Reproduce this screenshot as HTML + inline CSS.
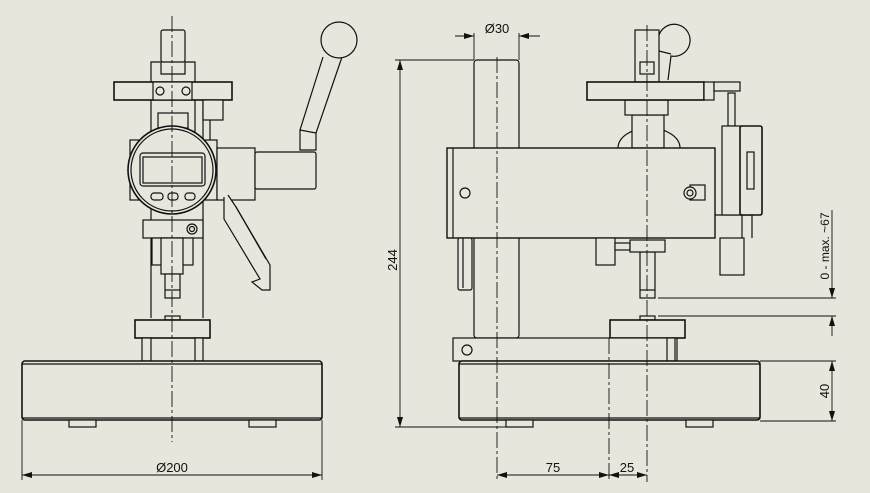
<!DOCTYPE html>
<html><head><meta charset="utf-8"><style>
html,body{margin:0;padding:0;background:#e7e6dd;}
svg{display:block}
text{font-family:"Liberation Sans",sans-serif;font-size:13px;fill:#111}
</style></head><body>
<svg width="870" height="493" viewBox="0 0 870 493" xmlns="http://www.w3.org/2000/svg">
<defs>
<marker id="a" viewBox="0 0 10 6" refX="10" refY="3" markerWidth="10" markerHeight="6" orient="auto-start-reverse" markerUnits="userSpaceOnUse"><path d="M0,0L10,3L0,6z" fill="#111"/></marker>
</defs>
<rect width="870" height="493" fill="#e7e6dd"/>
<g fill="#e7e6dd" stroke="#111" stroke-width="1.2">
<!-- LEFT VIEW -->
<line x1="151" y1="100" x2="151" y2="318"/><line x1="203" y1="100" x2="203" y2="318"/>
<rect x="161" y="30" width="24" height="32" rx="2"/>
<path d="M151 82v-20h10v12h24v-12h10v20"/>
<rect x="114" y="82" width="118" height="18" stroke-width="1.6"/>
<rect x="153" y="82" width="39" height="18"/>
<circle cx="160" cy="91" r="4"/><circle cx="186" cy="91" r="4"/>
<line x1="195" y1="100" x2="195" y2="140"/>
<rect x="158" y="113" width="30" height="15"/>
<rect x="203" y="100" width="20" height="20"/>
<line x1="210" y1="120" x2="210" y2="140"/>
<rect x="130" y="140" width="87" height="60"/>
<circle cx="172" cy="170" r="44" stroke-width="1.6"/><circle cx="172" cy="170" r="41"/>
<rect x="140" y="153" width="65" height="33" rx="3"/><rect x="143" y="157" width="59" height="26"/>
<rect x="151" y="193" width="12" height="7" rx="3"/><rect x="168" y="193" width="10" height="7" rx="3"/><rect x="185" y="193" width="10" height="7" rx="3"/>
<rect x="143" y="220" width="60" height="18"/><circle cx="192" cy="229" r="5"/><circle cx="192" cy="229" r="2.5"/>
<rect x="152" y="238" width="41" height="27"/>
<rect x="161" y="238" width="22" height="36"/>
<rect x="165" y="274" width="15" height="24"/><line x1="165" y1="290" x2="180" y2="290"/>
<rect x="165" y="316" width="15" height="4"/>
<rect x="135" y="320" width="75" height="18" stroke-width="1.6"/>
<rect x="142" y="338" width="9" height="23"/><rect x="195" y="338" width="8" height="23"/>
<rect x="22" y="361" width="300" height="59" rx="3" stroke-width="1.6"/>
<line x1="22" y1="364" x2="322" y2="364"/><line x1="22" y1="418" x2="322" y2="418"/>
<rect x="69" y="420" width="27" height="7"/><rect x="249" y="420" width="27" height="7"/>
<!-- handle -->
<rect x="217" y="148" width="38" height="52"/>
<rect x="255" y="152" width="61" height="37" rx="2"/>
<path d="M300 130L323 57M316 133L342 57" fill="none"/>
<path d="M300 130l0 20h16v-17z"/>
<circle cx="339" cy="40" r="18"/>
<path d="M228 195l8 12 34 58 0 25-8 0-10-8 8-3-36-60 0-22"/>
<path d="M236 207l30 52" fill="none"/>
</g>
<g fill="none" stroke="#111" stroke-width="1.2">
<line x1="172" y1="16" x2="172" y2="442" stroke-width="0.9" stroke-dasharray="16,3,3,3"/>
<line x1="22" y1="420" x2="22" y2="480" stroke-width="0.9"/><line x1="322" y1="420" x2="322" y2="480" stroke-width="0.9"/>
<line x1="22" y1="475" x2="322" y2="475" stroke-width="0.9" marker-start="url(#a)" marker-end="url(#a)"/>
</g>

<!-- RIGHT VIEW -->
<g fill="#e7e6dd" stroke="#111" stroke-width="1.2">
<rect x="474" y="60" width="45" height="278" rx="3"/>
<path d="M618 148a31 20 0 0 1 62 0"/>
<rect x="632" y="115" width="32" height="33"/><rect x="625" y="100" width="43" height="15"/>
<rect x="447" y="148" width="268" height="90" stroke-width="1.4"/>
<line x1="453" y1="148" x2="453" y2="238"/>
<circle cx="465" cy="193" r="5"/>
<rect x="690" y="185" width="15" height="15"/><circle cx="690" cy="193" r="6"/><circle cx="690" cy="193" r="3"/>
<path d="M659 35a16 16 0 1 1 12 21L668 80" fill="none"/>
<rect x="635" y="30" width="24" height="52"/><rect x="640" y="62" width="14" height="12"/>
<path d="M659 51l12 3" fill="none"/>
<rect x="587" y="82" width="117" height="18" stroke-width="1.6"/>
<rect x="704" y="82" width="10" height="18"/><rect x="714" y="82" width="26" height="9"/>
<rect x="728" y="93" width="7" height="33"/>
<path d="M715 215h27v23M742 215h10v23"/>
<rect x="722" y="126" width="20" height="89"/><rect x="740" y="126" width="22" height="89" rx="2" stroke-width="1.6"/>
<rect x="747" y="152" width="7" height="37"/>
<rect x="596" y="238" width="19" height="27"/>
<rect x="615" y="243" width="15" height="7"/>
<rect x="640" y="252" width="15" height="46"/><line x1="640" y1="290" x2="655" y2="290"/>
<rect x="630" y="240" width="35" height="12"/>
<rect x="720" y="238" width="24" height="37"/>
<rect x="458" y="238" width="14" height="52" rx="2"/><line x1="463" y1="238" x2="463" y2="288"/>
<rect x="640" y="316" width="15" height="4"/>
<rect x="610" y="320" width="75" height="18" stroke-width="1.6"/>
<rect x="453" y="338" width="224" height="23"/><circle cx="467" cy="350" r="5"/>
<rect x="667" y="338" width="8" height="23"/>
<rect x="459" y="361" width="301" height="59" rx="3" stroke-width="1.6"/>
<line x1="459" y1="364" x2="760" y2="364"/><line x1="459" y1="418" x2="760" y2="418"/>
<rect x="506" y="420" width="27" height="7"/><rect x="686" y="420" width="27" height="7"/>
</g>
<g fill="none" stroke="#111" stroke-width="1.2">
<line x1="497" y1="57" x2="497" y2="482" stroke-width="0.9" stroke-dasharray="16,3,3,3"/>
<line x1="647" y1="25" x2="647" y2="482" stroke-width="0.9" stroke-dasharray="16,3,3,3"/>
<line x1="609" y1="338" x2="609" y2="482" stroke-width="0.9" stroke-dasharray="16,3,3,3"/>
<line x1="395" y1="60" x2="474" y2="60" stroke-width="0.9"/><line x1="395" y1="427" x2="506" y2="427" stroke-width="0.9"/>
<line x1="400" y1="60" x2="400" y2="427" stroke-width="0.9" marker-start="url(#a)" marker-end="url(#a)"/>
<line x1="474" y1="33" x2="474" y2="60" stroke-width="0.9"/><line x1="519" y1="33" x2="519" y2="60" stroke-width="0.9"/>
<line x1="455" y1="36" x2="474" y2="36" stroke-width="0.9" marker-end="url(#a)"/><line x1="540" y1="36" x2="519" y2="36" stroke-width="0.9" marker-end="url(#a)"/>
<line x1="658" y1="298" x2="836" y2="298" stroke-width="0.9"/><line x1="658" y1="316" x2="836" y2="316" stroke-width="0.9"/>
<line x1="832" y1="210" x2="832" y2="298" stroke-width="0.9" marker-end="url(#a)"/>
<line x1="832" y1="336" x2="832" y2="316" stroke-width="0.9" marker-end="url(#a)"/>
<line x1="760" y1="361" x2="836" y2="361" stroke-width="0.9"/><line x1="760" y1="421" x2="836" y2="421" stroke-width="0.9"/>
<line x1="832" y1="361" x2="832" y2="421" stroke-width="0.9" marker-start="url(#a)" marker-end="url(#a)"/>
<line x1="497" y1="475" x2="609" y2="475" stroke-width="0.9" marker-start="url(#a)" marker-end="url(#a)"/>
<line x1="609" y1="475" x2="647" y2="475" stroke-width="0.9" marker-start="url(#a)" marker-end="url(#a)"/>
</g>
<text x="172" y="472" text-anchor="middle">Ø200</text>
<text x="497" y="33" text-anchor="middle">Ø30</text>
<text x="553" y="472" text-anchor="middle">75</text>
<text x="627" y="472" text-anchor="middle">25</text>
<text transform="translate(397,260) rotate(-90)" text-anchor="middle">244</text>
<text transform="translate(829,391) rotate(-90)" text-anchor="middle">40</text>
<text transform="translate(829,246) rotate(-90)" text-anchor="middle" style="font-size:12px">0 - max. ~67</text>
</svg>
</body></html>
